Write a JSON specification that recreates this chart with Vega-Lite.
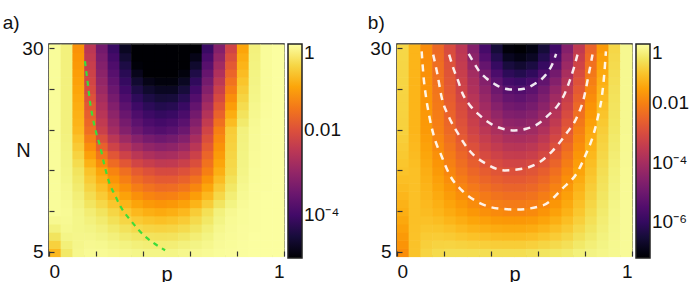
{
"$schema": "https://vega.github.io/schema/vega-lite/v6.json",
"padding": {"left": 2, "top": 13, "right": 0, "bottom": 0},
"config": {
  "font": "Liberation Sans",
  "view": {"stroke": "#222", "strokeWidth": 1.5},
  "axis": {"grid": false, "domain": false, "ticks": true, "tickSize": -5, "tickColor": "#333", "tickWidth": 1.2, "labelFont": "Liberation Sans", "labelFontSize": 19, "labelColor": "#111", "titleFont": "Liberation Sans", "titleFontSize": 20, "titleFontWeight": "normal", "titleColor": "#111", "labelPadding": 11},
  "legend": {"gradientLength": 214, "gradientThickness": 14, "gradientStrokeColor": "#222", "gradientStrokeWidth": 1.5, "labelFont": "Liberation Sans", "labelFontSize": 19, "labelColor": "#111", "offset": 4, "padding": 0, "labelOffset": 3, "labelBaseline": "middle"},
  "title": {"font": "Liberation Sans", "fontSize": 19, "fontWeight": "normal", "anchor": "start", "color": "#111", "offset": 6}
},
"datasets": {
"grid": [
{"p":0.025,"N":5,"a":-0.8,"b":-1.8},{"p":0.075,"N":5,"a":-0.3,"b":-1.0},{"p":0.125,"N":5,"a":-0.12,"b":-0.75},{"p":0.175,"N":5,"a":-0.08,"b":-0.65},{"p":0.225,"N":5,"a":-0.08,"b":-0.6},{"p":0.275,"N":5,"a":-0.1,"b":-0.6},{"p":0.325,"N":5,"a":-0.12,"b":-0.6},{"p":0.375,"N":5,"a":-0.14,"b":-0.6},{"p":0.425,"N":5,"a":-0.15,"b":-0.6},{"p":0.475,"N":5,"a":-0.15,"b":-0.6},{"p":0.525,"N":5,"a":-0.15,"b":-0.6},{"p":0.575,"N":5,"a":-0.12,"b":-0.55},{"p":0.625,"N":5,"a":-0.1,"b":-0.5},{"p":0.675,"N":5,"a":-0.08,"b":-0.45},{"p":0.725,"N":5,"a":-0.05,"b":-0.4},{"p":0.775,"N":5,"a":-0.04,"b":-0.3},{"p":0.825,"N":5,"a":-0.03,"b":-0.25},{"p":0.875,"N":5,"a":-0.02,"b":-0.2},{"p":0.925,"N":5,"a":-0.02,"b":-0.15},{"p":0.975,"N":5,"a":-0.02,"b":-0.1},
{"p":0.025,"N":6,"a":-0.55,"b":-1.7},{"p":0.075,"N":6,"a":-0.22,"b":-1.01},{"p":0.125,"N":6,"a":-0.13,"b":-0.82},{"p":0.175,"N":6,"a":-0.1,"b":-0.76},{"p":0.225,"N":6,"a":-0.11,"b":-0.75},{"p":0.275,"N":6,"a":-0.15,"b":-0.78},{"p":0.325,"N":6,"a":-0.18,"b":-0.81},{"p":0.375,"N":6,"a":-0.22,"b":-0.83},{"p":0.425,"N":6,"a":-0.24,"b":-0.85},{"p":0.475,"N":6,"a":-0.25,"b":-0.86},{"p":0.525,"N":6,"a":-0.24,"b":-0.86},{"p":0.575,"N":6,"a":-0.2,"b":-0.81},{"p":0.625,"N":6,"a":-0.16,"b":-0.74},{"p":0.675,"N":6,"a":-0.12,"b":-0.66},{"p":0.725,"N":6,"a":-0.07,"b":-0.57},{"p":0.775,"N":6,"a":-0.05,"b":-0.43},{"p":0.825,"N":6,"a":-0.03,"b":-0.33},{"p":0.875,"N":6,"a":-0.02,"b":-0.24},{"p":0.925,"N":6,"a":-0.02,"b":-0.16},{"p":0.975,"N":6,"a":-0.02,"b":-0.1},
{"p":0.025,"N":7,"a":-0.35,"b":-1.6},{"p":0.075,"N":7,"a":-0.15,"b":-1.02},{"p":0.125,"N":7,"a":-0.13,"b":-0.89},{"p":0.175,"N":7,"a":-0.13,"b":-0.87},{"p":0.225,"N":7,"a":-0.16,"b":-0.9},{"p":0.275,"N":7,"a":-0.21,"b":-0.96},{"p":0.325,"N":7,"a":-0.27,"b":-1.02},{"p":0.375,"N":7,"a":-0.32,"b":-1.06},{"p":0.425,"N":7,"a":-0.36,"b":-1.1},{"p":0.475,"N":7,"a":-0.37,"b":-1.12},{"p":0.525,"N":7,"a":-0.36,"b":-1.12},{"p":0.575,"N":7,"a":-0.31,"b":-1.07},{"p":0.625,"N":7,"a":-0.24,"b":-0.98},{"p":0.675,"N":7,"a":-0.17,"b":-0.87},{"p":0.725,"N":7,"a":-0.09,"b":-0.74},{"p":0.775,"N":7,"a":-0.06,"b":-0.56},{"p":0.825,"N":7,"a":-0.04,"b":-0.41},{"p":0.875,"N":7,"a":-0.02,"b":-0.28},{"p":0.925,"N":7,"a":-0.02,"b":-0.17},{"p":0.975,"N":7,"a":-0.02,"b":-0.1},
{"p":0.025,"N":8,"a":-0.2,"b":-1.5},{"p":0.075,"N":8,"a":-0.11,"b":-1.03},{"p":0.125,"N":8,"a":-0.14,"b":-0.96},{"p":0.175,"N":8,"a":-0.16,"b":-0.98},{"p":0.225,"N":8,"a":-0.21,"b":-1.05},{"p":0.275,"N":8,"a":-0.29,"b":-1.14},{"p":0.325,"N":8,"a":-0.37,"b":-1.23},{"p":0.375,"N":8,"a":-0.46,"b":-1.29},{"p":0.425,"N":8,"a":-0.51,"b":-1.35},{"p":0.475,"N":8,"a":-0.53,"b":-1.38},{"p":0.525,"N":8,"a":-0.51,"b":-1.38},{"p":0.575,"N":8,"a":-0.45,"b":-1.33},{"p":0.625,"N":8,"a":-0.34,"b":-1.22},{"p":0.675,"N":8,"a":-0.23,"b":-1.08},{"p":0.725,"N":8,"a":-0.12,"b":-0.91},{"p":0.775,"N":8,"a":-0.07,"b":-0.69},{"p":0.825,"N":8,"a":-0.04,"b":-0.49},{"p":0.875,"N":8,"a":-0.03,"b":-0.32},{"p":0.925,"N":8,"a":-0.02,"b":-0.18},{"p":0.975,"N":8,"a":-0.02,"b":-0.1},
{"p":0.025,"N":9,"a":-0.1,"b":-1.4},{"p":0.075,"N":9,"a":-0.09,"b":-1.04},{"p":0.125,"N":9,"a":-0.14,"b":-1.03},{"p":0.175,"N":9,"a":-0.2,"b":-1.09},{"p":0.225,"N":9,"a":-0.27,"b":-1.2},{"p":0.275,"N":9,"a":-0.39,"b":-1.32},{"p":0.325,"N":9,"a":-0.5,"b":-1.44},{"p":0.375,"N":9,"a":-0.62,"b":-1.52},{"p":0.425,"N":9,"a":-0.69,"b":-1.6},{"p":0.475,"N":9,"a":-0.73,"b":-1.64},{"p":0.525,"N":9,"a":-0.69,"b":-1.64},{"p":0.575,"N":9,"a":-0.61,"b":-1.59},{"p":0.625,"N":9,"a":-0.46,"b":-1.46},{"p":0.675,"N":9,"a":-0.31,"b":-1.29},{"p":0.725,"N":9,"a":-0.16,"b":-1.08},{"p":0.775,"N":9,"a":-0.08,"b":-0.82},{"p":0.825,"N":9,"a":-0.05,"b":-0.57},{"p":0.875,"N":9,"a":-0.03,"b":-0.36},{"p":0.925,"N":9,"a":-0.02,"b":-0.19},{"p":0.975,"N":9,"a":-0.02,"b":-0.1},
{"p":0.025,"N":10,"a":-0.05,"b":-1.3},{"p":0.075,"N":10,"a":-0.08,"b":-1.05},{"p":0.125,"N":10,"a":-0.15,"b":-1.1},{"p":0.175,"N":10,"a":-0.25,"b":-1.2},{"p":0.225,"N":10,"a":-0.35,"b":-1.35},{"p":0.275,"N":10,"a":-0.5,"b":-1.5},{"p":0.325,"N":10,"a":-0.65,"b":-1.65},{"p":0.375,"N":10,"a":-0.8,"b":-1.75},{"p":0.425,"N":10,"a":-0.9,"b":-1.85},{"p":0.475,"N":10,"a":-0.95,"b":-1.9},{"p":0.525,"N":10,"a":-0.9,"b":-1.9},{"p":0.575,"N":10,"a":-0.8,"b":-1.85},{"p":0.625,"N":10,"a":-0.6,"b":-1.7},{"p":0.675,"N":10,"a":-0.4,"b":-1.5},{"p":0.725,"N":10,"a":-0.2,"b":-1.25},{"p":0.775,"N":10,"a":-0.1,"b":-0.95},{"p":0.825,"N":10,"a":-0.05,"b":-0.65},{"p":0.875,"N":10,"a":-0.03,"b":-0.4},{"p":0.925,"N":10,"a":-0.02,"b":-0.2},{"p":0.975,"N":10,"a":-0.02,"b":-0.1},
{"p":0.025,"N":11,"a":-0.05,"b":-1.24},{"p":0.075,"N":11,"a":-0.09,"b":-1.05},{"p":0.125,"N":11,"a":-0.19,"b":-1.14},{"p":0.175,"N":11,"a":-0.34,"b":-1.28},{"p":0.225,"N":11,"a":-0.48,"b":-1.46},{"p":0.275,"N":11,"a":-0.67,"b":-1.64},{"p":0.325,"N":11,"a":-0.84,"b":-1.81},{"p":0.375,"N":11,"a":-1.01,"b":-1.93},{"p":0.425,"N":11,"a":-1.12,"b":-2.04},{"p":0.475,"N":11,"a":-1.18,"b":-2.1},{"p":0.525,"N":11,"a":-1.14,"b":-2.1},{"p":0.575,"N":11,"a":-1.04,"b":-2.04},{"p":0.625,"N":11,"a":-0.84,"b":-1.88},{"p":0.675,"N":11,"a":-0.6,"b":-1.66},{"p":0.725,"N":11,"a":-0.34,"b":-1.38},{"p":0.775,"N":11,"a":-0.17,"b":-1.05},{"p":0.825,"N":11,"a":-0.07,"b":-0.72},{"p":0.875,"N":11,"a":-0.03,"b":-0.44},{"p":0.925,"N":11,"a":-0.02,"b":-0.22},{"p":0.975,"N":11,"a":-0.02,"b":-0.1},
{"p":0.025,"N":12,"a":-0.05,"b":-1.18},{"p":0.075,"N":12,"a":-0.11,"b":-1.05},{"p":0.125,"N":12,"a":-0.23,"b":-1.18},{"p":0.175,"N":12,"a":-0.43,"b":-1.36},{"p":0.225,"N":12,"a":-0.61,"b":-1.57},{"p":0.275,"N":12,"a":-0.84,"b":-1.78},{"p":0.325,"N":12,"a":-1.03,"b":-1.97},{"p":0.375,"N":12,"a":-1.22,"b":-2.11},{"p":0.425,"N":12,"a":-1.34,"b":-2.23},{"p":0.475,"N":12,"a":-1.41,"b":-2.3},{"p":0.525,"N":12,"a":-1.38,"b":-2.3},{"p":0.575,"N":12,"a":-1.28,"b":-2.23},{"p":0.625,"N":12,"a":-1.08,"b":-2.06},{"p":0.675,"N":12,"a":-0.8,"b":-1.82},{"p":0.725,"N":12,"a":-0.48,"b":-1.51},{"p":0.775,"N":12,"a":-0.24,"b":-1.15},{"p":0.825,"N":12,"a":-0.09,"b":-0.79},{"p":0.875,"N":12,"a":-0.04,"b":-0.48},{"p":0.925,"N":12,"a":-0.02,"b":-0.24},{"p":0.975,"N":12,"a":-0.02,"b":-0.11},
{"p":0.025,"N":13,"a":-0.05,"b":-1.12},{"p":0.075,"N":13,"a":-0.12,"b":-1.05},{"p":0.125,"N":13,"a":-0.27,"b":-1.22},{"p":0.175,"N":13,"a":-0.52,"b":-1.44},{"p":0.225,"N":13,"a":-0.74,"b":-1.68},{"p":0.275,"N":13,"a":-1.01,"b":-1.92},{"p":0.325,"N":13,"a":-1.22,"b":-2.13},{"p":0.375,"N":13,"a":-1.43,"b":-2.29},{"p":0.425,"N":13,"a":-1.56,"b":-2.42},{"p":0.475,"N":13,"a":-1.64,"b":-2.5},{"p":0.525,"N":13,"a":-1.62,"b":-2.5},{"p":0.575,"N":13,"a":-1.52,"b":-2.42},{"p":0.625,"N":13,"a":-1.32,"b":-2.24},{"p":0.675,"N":13,"a":-1.0,"b":-1.98},{"p":0.725,"N":13,"a":-0.62,"b":-1.64},{"p":0.775,"N":13,"a":-0.31,"b":-1.25},{"p":0.825,"N":13,"a":-0.11,"b":-0.86},{"p":0.875,"N":13,"a":-0.04,"b":-0.52},{"p":0.925,"N":13,"a":-0.03,"b":-0.26},{"p":0.975,"N":13,"a":-0.02,"b":-0.11},
{"p":0.025,"N":14,"a":-0.05,"b":-1.06},{"p":0.075,"N":14,"a":-0.14,"b":-1.05},{"p":0.125,"N":14,"a":-0.31,"b":-1.26},{"p":0.175,"N":14,"a":-0.61,"b":-1.52},{"p":0.225,"N":14,"a":-0.87,"b":-1.79},{"p":0.275,"N":14,"a":-1.18,"b":-2.06},{"p":0.325,"N":14,"a":-1.41,"b":-2.29},{"p":0.375,"N":14,"a":-1.64,"b":-2.47},{"p":0.425,"N":14,"a":-1.78,"b":-2.61},{"p":0.475,"N":14,"a":-1.87,"b":-2.7},{"p":0.525,"N":14,"a":-1.86,"b":-2.7},{"p":0.575,"N":14,"a":-1.76,"b":-2.61},{"p":0.625,"N":14,"a":-1.56,"b":-2.42},{"p":0.675,"N":14,"a":-1.2,"b":-2.14},{"p":0.725,"N":14,"a":-0.76,"b":-1.77},{"p":0.775,"N":14,"a":-0.38,"b":-1.35},{"p":0.825,"N":14,"a":-0.13,"b":-0.93},{"p":0.875,"N":14,"a":-0.05,"b":-0.56},{"p":0.925,"N":14,"a":-0.03,"b":-0.28},{"p":0.975,"N":14,"a":-0.02,"b":-0.12},
{"p":0.025,"N":15,"a":-0.05,"b":-1.0},{"p":0.075,"N":15,"a":-0.15,"b":-1.05},{"p":0.125,"N":15,"a":-0.35,"b":-1.3},{"p":0.175,"N":15,"a":-0.7,"b":-1.6},{"p":0.225,"N":15,"a":-1.0,"b":-1.9},{"p":0.275,"N":15,"a":-1.35,"b":-2.2},{"p":0.325,"N":15,"a":-1.6,"b":-2.45},{"p":0.375,"N":15,"a":-1.85,"b":-2.65},{"p":0.425,"N":15,"a":-2.0,"b":-2.8},{"p":0.475,"N":15,"a":-2.1,"b":-2.9},{"p":0.525,"N":15,"a":-2.1,"b":-2.9},{"p":0.575,"N":15,"a":-2.0,"b":-2.8},{"p":0.625,"N":15,"a":-1.8,"b":-2.6},{"p":0.675,"N":15,"a":-1.4,"b":-2.3},{"p":0.725,"N":15,"a":-0.9,"b":-1.9},{"p":0.775,"N":15,"a":-0.45,"b":-1.45},{"p":0.825,"N":15,"a":-0.15,"b":-1.0},{"p":0.875,"N":15,"a":-0.05,"b":-0.6},{"p":0.925,"N":15,"a":-0.03,"b":-0.3},{"p":0.975,"N":15,"a":-0.02,"b":-0.12},
{"p":0.025,"N":16,"a":-0.05,"b":-0.96},{"p":0.075,"N":16,"a":-0.16,"b":-1.08},{"p":0.125,"N":16,"a":-0.44,"b":-1.36},{"p":0.175,"N":16,"a":-0.88,"b":-1.68},{"p":0.225,"N":16,"a":-1.26,"b":-2.0},{"p":0.275,"N":16,"a":-1.64,"b":-2.32},{"p":0.325,"N":16,"a":-1.92,"b":-2.6},{"p":0.375,"N":16,"a":-2.18,"b":-2.84},{"p":0.425,"N":16,"a":-2.34,"b":-3.02},{"p":0.475,"N":16,"a":-2.44,"b":-3.15},{"p":0.525,"N":16,"a":-2.42,"b":-3.16},{"p":0.575,"N":16,"a":-2.3,"b":-3.06},{"p":0.625,"N":16,"a":-2.04,"b":-2.84},{"p":0.675,"N":16,"a":-1.56,"b":-2.5},{"p":0.725,"N":16,"a":-1.0,"b":-2.06},{"p":0.775,"N":16,"a":-0.48,"b":-1.56},{"p":0.825,"N":16,"a":-0.16,"b":-1.08},{"p":0.875,"N":16,"a":-0.06,"b":-0.65},{"p":0.925,"N":16,"a":-0.03,"b":-0.33},{"p":0.975,"N":16,"a":-0.02,"b":-0.13},
{"p":0.025,"N":17,"a":-0.05,"b":-0.92},{"p":0.075,"N":17,"a":-0.17,"b":-1.11},{"p":0.125,"N":17,"a":-0.53,"b":-1.42},{"p":0.175,"N":17,"a":-1.06,"b":-1.76},{"p":0.225,"N":17,"a":-1.52,"b":-2.1},{"p":0.275,"N":17,"a":-1.93,"b":-2.44},{"p":0.325,"N":17,"a":-2.24,"b":-2.75},{"p":0.375,"N":17,"a":-2.51,"b":-3.03},{"p":0.425,"N":17,"a":-2.68,"b":-3.24},{"p":0.475,"N":17,"a":-2.78,"b":-3.4},{"p":0.525,"N":17,"a":-2.74,"b":-3.42},{"p":0.575,"N":17,"a":-2.6,"b":-3.32},{"p":0.625,"N":17,"a":-2.28,"b":-3.08},{"p":0.675,"N":17,"a":-1.72,"b":-2.7},{"p":0.725,"N":17,"a":-1.1,"b":-2.22},{"p":0.775,"N":17,"a":-0.51,"b":-1.67},{"p":0.825,"N":17,"a":-0.17,"b":-1.16},{"p":0.875,"N":17,"a":-0.06,"b":-0.7},{"p":0.925,"N":17,"a":-0.03,"b":-0.36},{"p":0.975,"N":17,"a":-0.02,"b":-0.13},
{"p":0.025,"N":18,"a":-0.05,"b":-0.88},{"p":0.075,"N":18,"a":-0.18,"b":-1.14},{"p":0.125,"N":18,"a":-0.62,"b":-1.48},{"p":0.175,"N":18,"a":-1.24,"b":-1.84},{"p":0.225,"N":18,"a":-1.78,"b":-2.2},{"p":0.275,"N":18,"a":-2.22,"b":-2.56},{"p":0.325,"N":18,"a":-2.56,"b":-2.9},{"p":0.375,"N":18,"a":-2.84,"b":-3.22},{"p":0.425,"N":18,"a":-3.02,"b":-3.46},{"p":0.475,"N":18,"a":-3.12,"b":-3.65},{"p":0.525,"N":18,"a":-3.06,"b":-3.68},{"p":0.575,"N":18,"a":-2.9,"b":-3.58},{"p":0.625,"N":18,"a":-2.52,"b":-3.32},{"p":0.675,"N":18,"a":-1.88,"b":-2.9},{"p":0.725,"N":18,"a":-1.2,"b":-2.38},{"p":0.775,"N":18,"a":-0.54,"b":-1.78},{"p":0.825,"N":18,"a":-0.18,"b":-1.24},{"p":0.875,"N":18,"a":-0.07,"b":-0.75},{"p":0.925,"N":18,"a":-0.03,"b":-0.39},{"p":0.975,"N":18,"a":-0.02,"b":-0.14},
{"p":0.025,"N":19,"a":-0.05,"b":-0.84},{"p":0.075,"N":19,"a":-0.19,"b":-1.17},{"p":0.125,"N":19,"a":-0.71,"b":-1.54},{"p":0.175,"N":19,"a":-1.42,"b":-1.92},{"p":0.225,"N":19,"a":-2.04,"b":-2.3},{"p":0.275,"N":19,"a":-2.51,"b":-2.68},{"p":0.325,"N":19,"a":-2.88,"b":-3.05},{"p":0.375,"N":19,"a":-3.17,"b":-3.41},{"p":0.425,"N":19,"a":-3.36,"b":-3.68},{"p":0.475,"N":19,"a":-3.46,"b":-3.9},{"p":0.525,"N":19,"a":-3.38,"b":-3.94},{"p":0.575,"N":19,"a":-3.2,"b":-3.84},{"p":0.625,"N":19,"a":-2.76,"b":-3.56},{"p":0.675,"N":19,"a":-2.04,"b":-3.1},{"p":0.725,"N":19,"a":-1.3,"b":-2.54},{"p":0.775,"N":19,"a":-0.57,"b":-1.89},{"p":0.825,"N":19,"a":-0.19,"b":-1.32},{"p":0.875,"N":19,"a":-0.07,"b":-0.8},{"p":0.925,"N":19,"a":-0.03,"b":-0.42},{"p":0.975,"N":19,"a":-0.02,"b":-0.14},
{"p":0.025,"N":20,"a":-0.05,"b":-0.8},{"p":0.075,"N":20,"a":-0.2,"b":-1.2},{"p":0.125,"N":20,"a":-0.8,"b":-1.6},{"p":0.175,"N":20,"a":-1.6,"b":-2.0},{"p":0.225,"N":20,"a":-2.3,"b":-2.4},{"p":0.275,"N":20,"a":-2.8,"b":-2.8},{"p":0.325,"N":20,"a":-3.2,"b":-3.2},{"p":0.375,"N":20,"a":-3.5,"b":-3.6},{"p":0.425,"N":20,"a":-3.7,"b":-3.9},{"p":0.475,"N":20,"a":-3.8,"b":-4.15},{"p":0.525,"N":20,"a":-3.7,"b":-4.2},{"p":0.575,"N":20,"a":-3.5,"b":-4.1},{"p":0.625,"N":20,"a":-3.0,"b":-3.8},{"p":0.675,"N":20,"a":-2.2,"b":-3.3},{"p":0.725,"N":20,"a":-1.4,"b":-2.7},{"p":0.775,"N":20,"a":-0.6,"b":-2.0},{"p":0.825,"N":20,"a":-0.2,"b":-1.4},{"p":0.875,"N":20,"a":-0.08,"b":-0.85},{"p":0.925,"N":20,"a":-0.03,"b":-0.45},{"p":0.975,"N":20,"a":-0.02,"b":-0.15},
{"p":0.025,"N":21,"a":-0.05,"b":-0.79},{"p":0.075,"N":21,"a":-0.2,"b":-1.2},{"p":0.125,"N":21,"a":-0.84,"b":-1.62},{"p":0.175,"N":21,"a":-1.7,"b":-2.04},{"p":0.225,"N":21,"a":-2.42,"b":-2.46},{"p":0.275,"N":21,"a":-2.94,"b":-2.88},{"p":0.325,"N":21,"a":-3.36,"b":-3.32},{"p":0.375,"N":21,"a":-3.68,"b":-3.76},{"p":0.425,"N":21,"a":-3.88,"b":-4.12},{"p":0.475,"N":21,"a":-3.98,"b":-4.4},{"p":0.525,"N":21,"a":-3.9,"b":-4.46},{"p":0.575,"N":21,"a":-3.7,"b":-4.34},{"p":0.625,"N":21,"a":-3.2,"b":-4.02},{"p":0.675,"N":21,"a":-2.4,"b":-3.5},{"p":0.725,"N":21,"a":-1.58,"b":-2.86},{"p":0.775,"N":21,"a":-0.76,"b":-2.14},{"p":0.825,"N":21,"a":-0.28,"b":-1.5},{"p":0.875,"N":21,"a":-0.09,"b":-0.92},{"p":0.925,"N":21,"a":-0.03,"b":-0.47},{"p":0.975,"N":21,"a":-0.02,"b":-0.15},
{"p":0.025,"N":22,"a":-0.05,"b":-0.78},{"p":0.075,"N":22,"a":-0.2,"b":-1.2},{"p":0.125,"N":22,"a":-0.88,"b":-1.64},{"p":0.175,"N":22,"a":-1.8,"b":-2.08},{"p":0.225,"N":22,"a":-2.54,"b":-2.52},{"p":0.275,"N":22,"a":-3.08,"b":-2.96},{"p":0.325,"N":22,"a":-3.52,"b":-3.44},{"p":0.375,"N":22,"a":-3.86,"b":-3.92},{"p":0.425,"N":22,"a":-4.06,"b":-4.34},{"p":0.475,"N":22,"a":-4.16,"b":-4.65},{"p":0.525,"N":22,"a":-4.1,"b":-4.72},{"p":0.575,"N":22,"a":-3.9,"b":-4.58},{"p":0.625,"N":22,"a":-3.4,"b":-4.24},{"p":0.675,"N":22,"a":-2.6,"b":-3.7},{"p":0.725,"N":22,"a":-1.76,"b":-3.02},{"p":0.775,"N":22,"a":-0.92,"b":-2.28},{"p":0.825,"N":22,"a":-0.36,"b":-1.6},{"p":0.875,"N":22,"a":-0.11,"b":-0.99},{"p":0.925,"N":22,"a":-0.04,"b":-0.49},{"p":0.975,"N":22,"a":-0.02,"b":-0.15},
{"p":0.025,"N":23,"a":-0.05,"b":-0.77},{"p":0.075,"N":23,"a":-0.2,"b":-1.2},{"p":0.125,"N":23,"a":-0.92,"b":-1.66},{"p":0.175,"N":23,"a":-1.9,"b":-2.12},{"p":0.225,"N":23,"a":-2.66,"b":-2.58},{"p":0.275,"N":23,"a":-3.22,"b":-3.04},{"p":0.325,"N":23,"a":-3.68,"b":-3.56},{"p":0.375,"N":23,"a":-4.04,"b":-4.08},{"p":0.425,"N":23,"a":-4.24,"b":-4.56},{"p":0.475,"N":23,"a":-4.34,"b":-4.9},{"p":0.525,"N":23,"a":-4.3,"b":-4.98},{"p":0.575,"N":23,"a":-4.1,"b":-4.82},{"p":0.625,"N":23,"a":-3.6,"b":-4.46},{"p":0.675,"N":23,"a":-2.8,"b":-3.9},{"p":0.725,"N":23,"a":-1.94,"b":-3.18},{"p":0.775,"N":23,"a":-1.08,"b":-2.42},{"p":0.825,"N":23,"a":-0.44,"b":-1.7},{"p":0.875,"N":23,"a":-0.12,"b":-1.06},{"p":0.925,"N":23,"a":-0.04,"b":-0.51},{"p":0.975,"N":23,"a":-0.02,"b":-0.15},
{"p":0.025,"N":24,"a":-0.05,"b":-0.76},{"p":0.075,"N":24,"a":-0.2,"b":-1.2},{"p":0.125,"N":24,"a":-0.96,"b":-1.68},{"p":0.175,"N":24,"a":-2.0,"b":-2.16},{"p":0.225,"N":24,"a":-2.78,"b":-2.64},{"p":0.275,"N":24,"a":-3.36,"b":-3.12},{"p":0.325,"N":24,"a":-3.84,"b":-3.68},{"p":0.375,"N":24,"a":-4.22,"b":-4.24},{"p":0.425,"N":24,"a":-4.42,"b":-4.78},{"p":0.475,"N":24,"a":-4.52,"b":-5.15},{"p":0.525,"N":24,"a":-4.5,"b":-5.24},{"p":0.575,"N":24,"a":-4.3,"b":-5.06},{"p":0.625,"N":24,"a":-3.8,"b":-4.68},{"p":0.675,"N":24,"a":-3.0,"b":-4.1},{"p":0.725,"N":24,"a":-2.12,"b":-3.34},{"p":0.775,"N":24,"a":-1.24,"b":-2.56},{"p":0.825,"N":24,"a":-0.52,"b":-1.8},{"p":0.875,"N":24,"a":-0.14,"b":-1.13},{"p":0.925,"N":24,"a":-0.05,"b":-0.53},{"p":0.975,"N":24,"a":-0.02,"b":-0.15},
{"p":0.025,"N":25,"a":-0.05,"b":-0.75},{"p":0.075,"N":25,"a":-0.2,"b":-1.2},{"p":0.125,"N":25,"a":-1.0,"b":-1.7},{"p":0.175,"N":25,"a":-2.1,"b":-2.2},{"p":0.225,"N":25,"a":-2.9,"b":-2.7},{"p":0.275,"N":25,"a":-3.5,"b":-3.2},{"p":0.325,"N":25,"a":-4.0,"b":-3.8},{"p":0.375,"N":25,"a":-4.4,"b":-4.4},{"p":0.425,"N":25,"a":-4.6,"b":-5.0},{"p":0.475,"N":25,"a":-4.7,"b":-5.4},{"p":0.525,"N":25,"a":-4.7,"b":-5.5},{"p":0.575,"N":25,"a":-4.5,"b":-5.3},{"p":0.625,"N":25,"a":-4.0,"b":-4.9},{"p":0.675,"N":25,"a":-3.2,"b":-4.3},{"p":0.725,"N":25,"a":-2.3,"b":-3.5},{"p":0.775,"N":25,"a":-1.4,"b":-2.7},{"p":0.825,"N":25,"a":-0.6,"b":-1.9},{"p":0.875,"N":25,"a":-0.15,"b":-1.2},{"p":0.925,"N":25,"a":-0.05,"b":-0.55},{"p":0.975,"N":25,"a":-0.02,"b":-0.15},
{"p":0.025,"N":26,"a":-0.05,"b":-0.74},{"p":0.075,"N":26,"a":-0.2,"b":-1.2},{"p":0.125,"N":26,"a":-1.04,"b":-1.72},{"p":0.175,"N":26,"a":-2.18,"b":-2.24},{"p":0.225,"N":26,"a":-3.0,"b":-2.76},{"p":0.275,"N":26,"a":-3.62,"b":-3.28},{"p":0.325,"N":26,"a":-4.14,"b":-3.9},{"p":0.375,"N":26,"a":-4.58,"b":-4.6},{"p":0.425,"N":26,"a":-4.8,"b":-5.3},{"p":0.475,"N":26,"a":-4.9,"b":-5.75},{"p":0.525,"N":26,"a":-4.9,"b":-5.85},{"p":0.575,"N":26,"a":-4.7,"b":-5.65},{"p":0.625,"N":26,"a":-4.2,"b":-5.2},{"p":0.675,"N":26,"a":-3.38,"b":-4.6},{"p":0.725,"N":26,"a":-2.48,"b":-3.72},{"p":0.775,"N":26,"a":-1.56,"b":-2.86},{"p":0.825,"N":26,"a":-0.68,"b":-2.02},{"p":0.875,"N":26,"a":-0.16,"b":-1.28},{"p":0.925,"N":26,"a":-0.05,"b":-0.58},{"p":0.975,"N":26,"a":-0.02,"b":-0.15},
{"p":0.025,"N":27,"a":-0.05,"b":-0.73},{"p":0.075,"N":27,"a":-0.2,"b":-1.2},{"p":0.125,"N":27,"a":-1.08,"b":-1.74},{"p":0.175,"N":27,"a":-2.26,"b":-2.28},{"p":0.225,"N":27,"a":-3.1,"b":-2.82},{"p":0.275,"N":27,"a":-3.74,"b":-3.36},{"p":0.325,"N":27,"a":-4.28,"b":-4.05},{"p":0.375,"N":27,"a":-4.76,"b":-4.85},{"p":0.425,"N":27,"a":-5.0,"b":-5.6},{"p":0.475,"N":27,"a":-5.1,"b":-6.1},{"p":0.525,"N":27,"a":-5.1,"b":-6.25},{"p":0.575,"N":27,"a":-4.9,"b":-6.05},{"p":0.625,"N":27,"a":-4.4,"b":-5.55},{"p":0.675,"N":27,"a":-3.56,"b":-4.9},{"p":0.725,"N":27,"a":-2.66,"b":-3.94},{"p":0.775,"N":27,"a":-1.72,"b":-3.02},{"p":0.825,"N":27,"a":-0.76,"b":-2.14},{"p":0.875,"N":27,"a":-0.17,"b":-1.36},{"p":0.925,"N":27,"a":-0.05,"b":-0.61},{"p":0.975,"N":27,"a":-0.02,"b":-0.15},
{"p":0.025,"N":28,"a":-0.05,"b":-0.72},{"p":0.075,"N":28,"a":-0.2,"b":-1.2},{"p":0.125,"N":28,"a":-1.12,"b":-1.76},{"p":0.175,"N":28,"a":-2.34,"b":-2.32},{"p":0.225,"N":28,"a":-3.2,"b":-2.88},{"p":0.275,"N":28,"a":-3.86,"b":-3.44},{"p":0.325,"N":28,"a":-4.42,"b":-4.25},{"p":0.375,"N":28,"a":-4.94,"b":-5.15},{"p":0.425,"N":28,"a":-5.2,"b":-5.95},{"p":0.475,"N":28,"a":-5.3,"b":-6.45},{"p":0.525,"N":28,"a":-5.3,"b":-6.6},{"p":0.575,"N":28,"a":-5.1,"b":-6.4},{"p":0.625,"N":28,"a":-4.6,"b":-5.95},{"p":0.675,"N":28,"a":-3.74,"b":-5.25},{"p":0.725,"N":28,"a":-2.84,"b":-4.16},{"p":0.775,"N":28,"a":-1.88,"b":-3.18},{"p":0.825,"N":28,"a":-0.84,"b":-2.26},{"p":0.875,"N":28,"a":-0.18,"b":-1.44},{"p":0.925,"N":28,"a":-0.05,"b":-0.64},{"p":0.975,"N":28,"a":-0.02,"b":-0.15},
{"p":0.025,"N":29,"a":-0.05,"b":-0.71},{"p":0.075,"N":29,"a":-0.2,"b":-1.2},{"p":0.125,"N":29,"a":-1.16,"b":-1.78},{"p":0.175,"N":29,"a":-2.42,"b":-2.36},{"p":0.225,"N":29,"a":-3.3,"b":-2.94},{"p":0.275,"N":29,"a":-3.98,"b":-3.52},{"p":0.325,"N":29,"a":-4.56,"b":-4.45},{"p":0.375,"N":29,"a":-5.12,"b":-5.45},{"p":0.425,"N":29,"a":-5.4,"b":-6.25},{"p":0.475,"N":29,"a":-5.5,"b":-6.8},{"p":0.525,"N":29,"a":-5.5,"b":-6.95},{"p":0.575,"N":29,"a":-5.3,"b":-6.75},{"p":0.625,"N":29,"a":-4.8,"b":-6.25},{"p":0.675,"N":29,"a":-3.92,"b":-5.55},{"p":0.725,"N":29,"a":-3.02,"b":-4.38},{"p":0.775,"N":29,"a":-2.04,"b":-3.34},{"p":0.825,"N":29,"a":-0.92,"b":-2.38},{"p":0.875,"N":29,"a":-0.19,"b":-1.52},{"p":0.925,"N":29,"a":-0.05,"b":-0.67},{"p":0.975,"N":29,"a":-0.02,"b":-0.15},
{"p":0.025,"N":30,"a":-0.05,"b":-0.7},{"p":0.075,"N":30,"a":-0.2,"b":-1.2},{"p":0.125,"N":30,"a":-1.2,"b":-1.8},{"p":0.175,"N":30,"a":-2.5,"b":-2.4},{"p":0.225,"N":30,"a":-3.4,"b":-3.0},{"p":0.275,"N":30,"a":-4.1,"b":-3.6},{"p":0.325,"N":30,"a":-4.7,"b":-4.6},{"p":0.375,"N":30,"a":-5.3,"b":-5.7},{"p":0.425,"N":30,"a":-5.6,"b":-6.5},{"p":0.475,"N":30,"a":-5.7,"b":-7.1},{"p":0.525,"N":30,"a":-5.7,"b":-7.3},{"p":0.575,"N":30,"a":-5.5,"b":-7.0},{"p":0.625,"N":30,"a":-5.0,"b":-6.5},{"p":0.675,"N":30,"a":-4.1,"b":-5.8},{"p":0.725,"N":30,"a":-3.2,"b":-4.6},{"p":0.775,"N":30,"a":-2.2,"b":-3.5},{"p":0.825,"N":30,"a":-1.0,"b":-2.5},{"p":0.875,"N":30,"a":-0.2,"b":-1.6},{"p":0.925,"N":30,"a":-0.05,"b":-0.7},{"p":0.975,"N":30,"a":-0.02,"b":-0.15}
],
"green": [
{"p":0.153,"N":28.4},{"p":0.16,"N":26.8},{"p":0.167,"N":25.2},{"p":0.174,"N":23.5},{"p":0.186,"N":21.5},{"p":0.2,"N":19.7},{"p":0.217,"N":18.0},{"p":0.237,"N":15.5},{"p":0.26,"N":13.2},{"p":0.28,"N":12.0},{"p":0.302,"N":10.7},{"p":0.352,"N":8.7},{"p":0.409,"N":6.9},{"p":0.45,"N":6.0},{"p":0.494,"N":5.2}
],
"contours": [
{"c":1,"p":0.105,"N":29.6},{"c":1,"p":0.112,"N":26.8},{"c":1,"p":0.123,"N":24.1},{"c":1,"p":0.137,"N":21.7},{"c":1,"p":0.158,"N":19.1},{"c":1,"p":0.189,"N":16.8},{"c":1,"p":0.225,"N":14.4},{"c":1,"p":0.274,"N":12.6},{"c":1,"p":0.345,"N":11.1},{"c":1,"p":0.436,"N":10.3},{"c":1,"p":0.507,"N":10.2},{"c":1,"p":0.62,"N":10.7},{"c":1,"p":0.705,"N":12.8},{"c":1,"p":0.768,"N":14.8},{"c":1,"p":0.804,"N":17.0},{"c":1,"p":0.835,"N":19.3},{"c":1,"p":0.856,"N":21.7},{"c":1,"p":0.872,"N":24.1},{"c":1,"p":0.882,"N":26.8},{"c":1,"p":0.889,"N":29.6},
{"c":2,"p":0.154,"N":29.2},{"c":2,"p":0.172,"N":26.8},{"c":2,"p":0.189,"N":24.1},{"c":2,"p":0.222,"N":21.5},{"c":2,"p":0.26,"N":19.5},{"c":2,"p":0.309,"N":17.4},{"c":2,"p":0.38,"N":15.8},{"c":2,"p":0.458,"N":15.0},{"c":2,"p":0.535,"N":15.2},{"c":2,"p":0.606,"N":16.0},{"c":2,"p":0.662,"N":17.4},{"c":2,"p":0.72,"N":19.5},{"c":2,"p":0.765,"N":21.5},{"c":2,"p":0.797,"N":24.1},{"c":2,"p":0.816,"N":26.8},{"c":2,"p":0.832,"N":29.2},
{"c":3,"p":0.222,"N":29.2},{"c":3,"p":0.24,"N":27.5},{"c":3,"p":0.26,"N":26.0},{"c":3,"p":0.278,"N":24.5},{"c":3,"p":0.31,"N":23.0},{"c":3,"p":0.35,"N":21.8},{"c":3,"p":0.4,"N":20.7},{"c":3,"p":0.45,"N":20.1},{"c":3,"p":0.5,"N":19.9},{"c":3,"p":0.55,"N":20.1},{"c":3,"p":0.6,"N":20.7},{"c":3,"p":0.645,"N":21.8},{"c":3,"p":0.685,"N":23.0},{"c":3,"p":0.715,"N":24.5},{"c":3,"p":0.735,"N":26.0},{"c":3,"p":0.752,"N":27.5},{"c":3,"p":0.768,"N":29.2},
{"c":4,"p":0.305,"N":29.3},{"c":4,"p":0.325,"N":28.3},{"c":4,"p":0.349,"N":27.2},{"c":4,"p":0.38,"N":26.3},{"c":4,"p":0.415,"N":25.6},{"c":4,"p":0.46,"N":25.0},{"c":4,"p":0.5,"N":24.9},{"c":4,"p":0.54,"N":25.0},{"c":4,"p":0.585,"N":25.6},{"c":4,"p":0.62,"N":26.3},{"c":4,"p":0.645,"N":27.2},{"c":4,"p":0.665,"N":28.3},{"c":4,"p":0.677,"N":29.3}
]
},
"spacing": 25,
"resolve": {"scale": {"color": "independent"}},
"hconcat": [
{
  "title": {"text": "a)", "dx": -13},
  "width": 235, "height": 212,
  "layer": [
    {"data": {"name": "grid"}, "mark": {"type": "rect", "binSpacing": 0, "x2Offset": -0.6, "y2Offset": 0.6},
     "encoding": {
       "x": {"field": "p", "type": "quantitative", "bin": {"extent": [0, 1], "step": 0.05, "nice": false}, "scale": {"domain": [0, 1], "nice": false, "zero": false}, "axis": {"title": "p", "values": [0, 0.2, 0.4, 0.6, 0.8, 1], "labelExpr": "datum.value == 0 ? '0' : datum.value == 1 ? '1' : ''", "labelFlush": true, "titleY": 24, "titleBaseline": "alphabetic"}},
       "y": {"field": "N", "type": "quantitative", "bin": {"extent": [4.5, 30.5], "step": 1, "nice": false}, "scale": {"domain": [4.5, 30.5], "nice": false, "zero": false}, "axis": {"title": "N", "values": [5, 10, 15, 20, 25, 30], "labelExpr": "datum.value == 5 || datum.value == 30 ? datum.label : ''", "titleAngle": 0, "titleX": -26, "titleY": 106, "titleAlign": "center", "titleBaseline": "middle"}},
       "color": {"field": "a", "type": "quantitative", "scale": {"scheme": "inferno", "domain": [-5, 0], "clamp": true}, "legend": {"type": "gradient", "title": null, "values": [0, -2, -4], "labelExpr": "datum.value == 0 ? '1' : datum.value == -2 ? '0.01' : datum.value == -4 ? '10⁻⁴' : '10⁻⁶'"}}
     }},
    {"data": {"name": "green"}, "mark": {"type": "line", "color": "#3ddc3a", "strokeWidth": 2.2, "strokeDash": [5, 5], "interpolate": "monotone"},
     "encoding": {
       "x": {"field": "p", "type": "quantitative", "scale": {"domain": [0, 1], "nice": false, "zero": false}, "axis": {"title": "p", "values": [0, 0.2, 0.4, 0.6, 0.8, 1], "labelExpr": "datum.value == 0 ? '0' : datum.value == 1 ? '1' : ''", "labelFlush": true, "titleY": 24, "titleBaseline": "alphabetic"}},
       "y": {"field": "N", "type": "quantitative", "scale": {"domain": [4.5, 30.5], "nice": false, "zero": false}, "axis": {"title": "N", "values": [5, 10, 15, 20, 25, 30], "labelExpr": "datum.value == 5 || datum.value == 30 ? datum.label : ''", "titleAngle": 0, "titleX": -26, "titleY": 106, "titleAlign": "center", "titleBaseline": "middle"}}
     }}
  ]
},
{
  "title": {"text": "b)", "dx": -2},
  "width": 235, "height": 212,
  "layer": [
    {"data": {"name": "grid"}, "mark": {"type": "rect", "binSpacing": 0, "x2Offset": -0.6, "y2Offset": 0.6},
     "encoding": {
       "x": {"field": "p", "type": "quantitative", "bin": {"extent": [0, 1], "step": 0.05, "nice": false}, "scale": {"domain": [0, 1], "nice": false, "zero": false}, "axis": {"title": "p", "values": [0, 0.2, 0.4, 0.6, 0.8, 1], "labelExpr": "datum.value == 0 ? '0' : datum.value == 1 ? '1' : ''", "labelFlush": true, "titleY": 24, "titleBaseline": "alphabetic"}},
       "y": {"field": "N", "type": "quantitative", "bin": {"extent": [4.5, 30.5], "step": 1, "nice": false}, "scale": {"domain": [4.5, 30.5], "nice": false, "zero": false}, "axis": {"title": null, "values": [5, 10, 15, 20, 25, 30], "labelExpr": "datum.value == 5 || datum.value == 30 ? datum.label : ''"}},
       "color": {"field": "b", "type": "quantitative", "scale": {"scheme": "inferno", "domain": [-7.2, 0], "clamp": true}, "legend": {"type": "gradient", "title": null, "values": [0, -2, -4, -6], "labelExpr": "datum.value == 0 ? '1' : datum.value == -2 ? '0.01' : datum.value == -4 ? '10⁻⁴' : '10⁻⁶'"}}
     }},
    {"data": {"name": "contours"}, "mark": {"type": "line", "color": "white", "strokeWidth": 2.5, "strokeDash": [7, 6], "opacity": 0.9, "interpolate": "monotone"},
     "encoding": {
       "x": {"field": "p", "type": "quantitative", "scale": {"domain": [0, 1], "nice": false, "zero": false}, "axis": {"title": "p", "values": [0, 0.2, 0.4, 0.6, 0.8, 1], "labelExpr": "datum.value == 0 ? '0' : datum.value == 1 ? '1' : ''", "labelFlush": true, "titleY": 24, "titleBaseline": "alphabetic"}},
       "y": {"field": "N", "type": "quantitative", "scale": {"domain": [4.5, 30.5], "nice": false, "zero": false}, "axis": {"title": null, "values": [5, 10, 15, 20, 25, 30], "labelExpr": "datum.value == 5 || datum.value == 30 ? datum.label : ''"}},
       "detail": {"field": "c", "type": "nominal"}
     }}
  ]
}
]
}
